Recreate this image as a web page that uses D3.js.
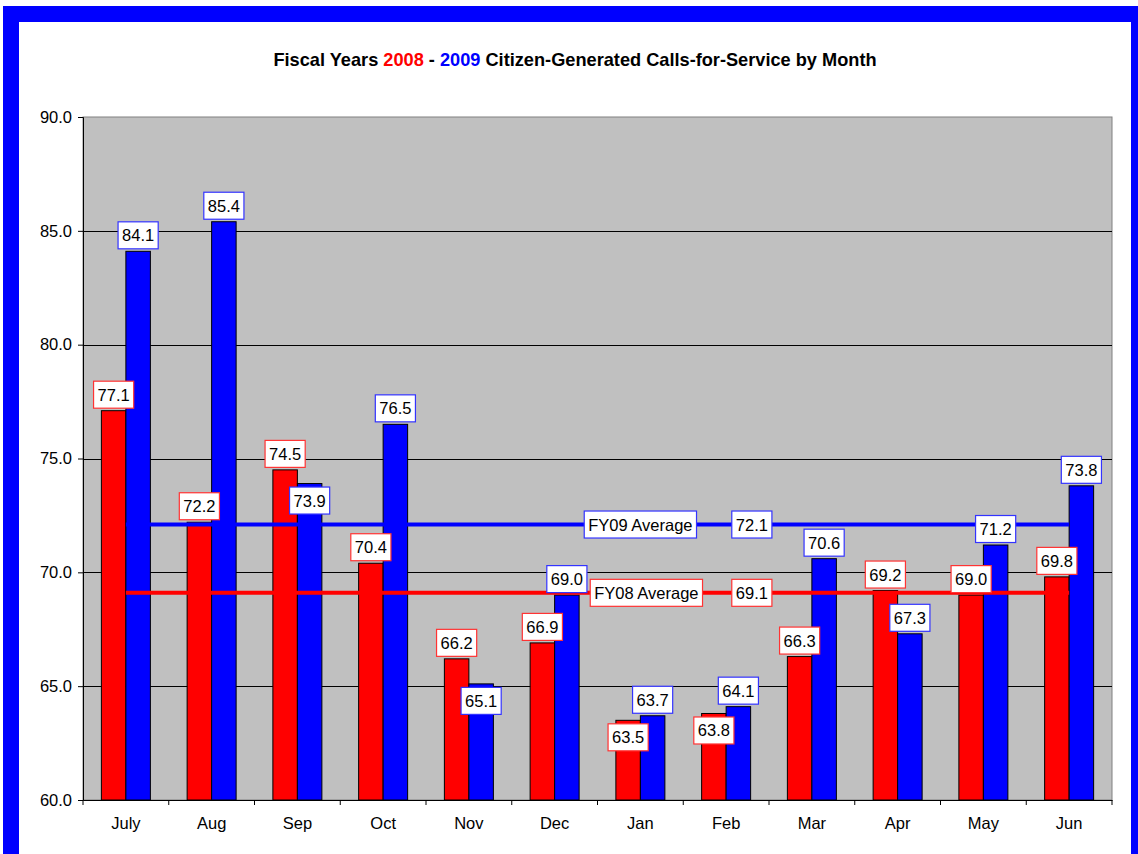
<!DOCTYPE html>
<html>
<head>
<meta charset="utf-8">
<script src="https://d3js.org/d3.v7.min.js"></script>
<style>
  body { margin: 0; background: #fff; }
  svg { display: block; font-family: "Liberation Sans", Arial, sans-serif; }
</style>
</head>
<body>
<svg id="chart" width="1138" height="854"></svg>
<script>
// Data
var months = ["July", "Aug", "Sep", "Oct", "Nov", "Dec", "Jan", "Feb", "Mar", "Apr", "May", "Jun"];
var fy08 = [77.1, 72.2, 74.5, 70.4, 66.2, 66.9, 63.5, 63.8, 66.3, 69.2, 69.0, 69.8];
var fy09 = [84.1, 85.4, 73.9, 76.5, 65.1, 69.0, 63.7, 64.1, 70.6, 67.3, 71.2, 73.8];
var fy08Avg = 69.1;
var fy09Avg = 72.1;
var yTicks = [60, 65, 70, 75, 80, 85, 90];

// labels that were dragged down into the bar to avoid overlaps
var labelsInside = { FY08: ["Jan", "Feb"], FY09: ["Sep", "Nov"] };

var svg = d3.select("#chart");

// outer blue frame
svg.append("rect").attr("x", 3).attr("y", 6).attr("width", 1150).attr("height", 870).attr("fill", "#0000ff");
svg.append("rect").attr("x", 19).attr("y", 22).attr("width", 1112).attr("height", 860).attr("fill", "#fff");

var plot = { left: 83, right: 1112, top: 117, bottom: 800 };

var x0 = d3.scaleBand().domain(months).range([plot.left, plot.right]).padding(0);
var y = d3.scaleLinear().domain([60, 90]).range([plot.bottom, plot.top]);
var bw = x0.bandwidth();
var barW = bw / 3.5; // Excel gap width 150%

// title
var title = svg.append("text")
  .attr("x", 575).attr("y", 66)
  .attr("text-anchor", "middle")
  .attr("font-size", 18.2).attr("font-weight", "bold");
title.append("tspan").text("Fiscal Years ");
title.append("tspan").attr("fill", "#ff0000").text("2008");
title.append("tspan").text(" - ");
title.append("tspan").attr("fill", "#0000ff").text("2009");
title.append("tspan").text(" Citizen-Generated Calls-for-Service by Month");

// plot background
svg.append("rect")
  .attr("x", plot.left).attr("y", plot.top)
  .attr("width", plot.right - plot.left).attr("height", plot.bottom - plot.top)
  .attr("fill", "#c0c0c0").attr("stroke", "#808080").attr("stroke-width", 1);

// gridlines
svg.append("g").selectAll("line")
  .data(yTicks.filter(function(d) { return d > 60 && d < 90; }))
  .join("line")
  .attr("x1", plot.left).attr("x2", plot.right)
  .attr("y1", function(d) { return Math.round(y(d)) + 0.5; })
  .attr("y2", function(d) { return Math.round(y(d)) + 0.5; })
  .attr("stroke", "#000").attr("stroke-width", 1);

// bars
var series = [
  { name: "FY08", values: fy08, color: "#ff0000", border: "#ff3333" },
  { name: "FY09", values: fy09, color: "#0000ff", border: "#3333ff" }
];

series.forEach(function(s, i) {
  svg.append("g").selectAll("rect")
    .data(s.values)
    .join("rect")
    .attr("x", function(d, j) { return x0(months[j]) + barW * 0.75 + i * barW; })
    .attr("y", function(d) { return y(d); })
    .attr("width", barW)
    .attr("height", function(d) { return plot.bottom - y(d); })
    .attr("fill", s.color)
    .attr("stroke", "#000").attr("stroke-width", 1);
});

// axes
var yAxis = svg.append("g")
  .attr("transform", "translate(" + plot.left + ",0)")
  .call(d3.axisLeft(y).tickValues(yTicks).tickFormat(d3.format(".1f")).tickSize(5).tickPadding(6));
yAxis.select(".domain").attr("stroke", "#000");
yAxis.selectAll("text").attr("font-size", 16.5).attr("fill", "#000")
  .attr("font-family", "Liberation Sans, Arial, sans-serif");

var xAxis = svg.append("g")
  .attr("transform", "translate(0," + plot.bottom + ")")
  .call(d3.axisBottom(x0).tickSize(0).tickPadding(17));
xAxis.select(".domain").attr("stroke", "#000");
xAxis.selectAll("text").attr("font-size", 16.5).attr("fill", "#000")
  .attr("font-family", "Liberation Sans, Arial, sans-serif");
// category boundary ticks
xAxis.append("g").selectAll("line")
  .data(months.concat(["end"]))
  .join("line")
  .attr("x1", function(d, j) { return plot.left + j * bw; })
  .attr("x2", function(d, j) { return plot.left + j * bw; })
  .attr("y1", 0).attr("y2", 5)
  .attr("stroke", "#000");

// average lines
var avgs = [
  { name: "FY08 Average", value: fy08Avg, color: "#ff0000", border: "#ff3333", nameAt: 0.57 },
  { name: "FY09 Average", value: fy09Avg, color: "#0000ff", border: "#3333ff", nameAt: 0.5 }
];
avgs.forEach(function(a) {
  svg.append("line")
    .attr("x1", x0(months[0]) + bw / 2)
    .attr("x2", x0(months[months.length - 1]) + bw / 2)
    .attr("y1", y(a.value)).attr("y2", y(a.value))
    .attr("stroke", a.color).attr("stroke-width", 4);
});

// label helper: white box with coloured border
function boxLabel(cx, cy, txt, border) {
  var g = svg.append("g");
  var t = g.append("text")
    .attr("x", cx).attr("y", cy + 6)
    .attr("text-anchor", "middle")
    .attr("font-size", 16.5).attr("fill", "#000")
    .text(txt);
  var w = t.node().getComputedTextLength() + 8;
  g.insert("rect", "text")
    .attr("x", cx - w / 2).attr("y", cy - 13.5)
    .attr("width", w).attr("height", 27)
    .attr("fill", "#fff").attr("stroke", border).attr("stroke-width", 1.2);
}

// data labels
series.forEach(function(s, i) {
  s.values.forEach(function(v, j) {
    var cx = x0(months[j]) + barW * 0.75 + i * barW + barW / 2;
    var inside = labelsInside[s.name].indexOf(months[j]) >= 0;
    var cy = inside ? y(v) + 17 : y(v) - 16;
    boxLabel(cx, cy, d3.format(".1f")(v), s.border);
  });
});

// average labels
avgs.forEach(function(a) {
  boxLabel(x0("Jan") + bw * a.nameAt, y(a.value), a.name, a.border);
  boxLabel(x0("Feb") + bw * 0.8, y(a.value), d3.format(".1f")(a.value), a.border);
});
</script>
</body>
</html>
